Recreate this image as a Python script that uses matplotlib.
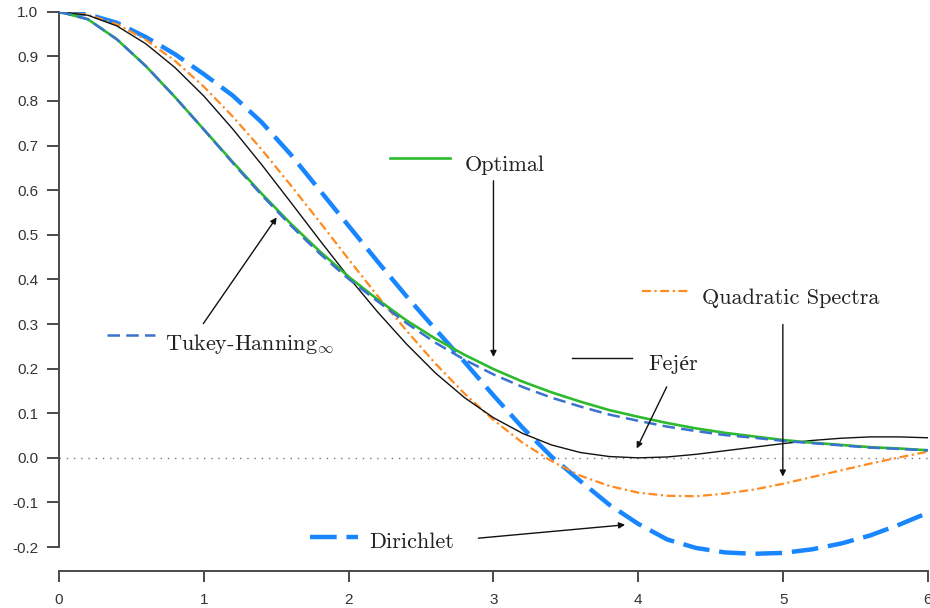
import matplotlib
matplotlib.use("Agg")
import matplotlib.pyplot as plt

# ---------------- data ----------------
x = [0.0, 0.2, 0.4, 0.6, 0.8, 1.0, 1.2, 1.4, 1.6, 1.8, 2.0, 2.2, 2.4, 2.6, 2.8, 3.0,
     3.2, 3.4, 3.6, 3.8, 4.0, 4.2, 4.4, 4.6, 4.8, 5.0, 5.2, 5.4, 5.6, 5.8, 6.0]

optimal = [1.000, 0.983, 0.938, 0.878, 0.809, 0.736, 0.663, 0.592, 0.525, 0.463, 0.406,
           0.355, 0.308, 0.267, 0.231, 0.199, 0.171, 0.147, 0.126, 0.107, 0.092, 0.078,
           0.066, 0.056, 0.048, 0.040, 0.034, 0.029, 0.024, 0.021, 0.017]

tukey_hanning = [1.000, 0.983, 0.938, 0.878, 0.809, 0.736, 0.661, 0.589, 0.521, 0.458, 0.401,
                 0.351, 0.302, 0.258, 0.220, 0.187, 0.159, 0.135, 0.115, 0.097, 0.083, 0.070,
                 0.060, 0.051, 0.045, 0.038, 0.033, 0.028, 0.023, 0.020, 0.017]

fejer = [1.000, 0.992, 0.968, 0.928, 0.875, 0.811, 0.737, 0.657, 0.573, 0.488, 0.405,
         0.327, 0.255, 0.190, 0.135, 0.090, 0.055, 0.029, 0.012, 0.003, 0.000, 0.002,
         0.008, 0.016, 0.024, 0.032, 0.039, 0.044, 0.047, 0.047, 0.045]

quadratic_spectral = [1.000, 0.993, 0.972, 0.937, 0.890, 0.832, 0.765, 0.691, 0.611, 0.529,
                      0.445, 0.363, 0.285, 0.211, 0.144, 0.085, 0.034, -0.007, -0.040,
                      -0.063, -0.078, -0.085, -0.086, -0.080, -0.071, -0.058, -0.043,
                      -0.028, -0.013, 0.001, 0.014]

dirichlet = [1.000, 0.994, 0.975, 0.943, 0.905, 0.860, 0.812, 0.752, 0.680, 0.600, 0.520,
             0.440, 0.362, 0.288, 0.215, 0.140, 0.068, 0.003, -0.052, -0.105, -0.148,
             -0.183, -0.202, -0.212, -0.215, -0.213, -0.205, -0.192, -0.174, -0.150, -0.123]

xticks = [0, 1, 2, 3, 4, 5, 6]
xtick_labels = ["0", "1", "2", "3", "4", "5", "6"]
yticks = [-0.2, -0.1, 0.0, 0.1, 0.2, 0.3, 0.4, 0.5, 0.6, 0.7, 0.8, 0.9, 1.0]
ytick_labels = ["-0.2", "-0.1", "0.0", "0.1", "0.2", "0.3", "0.4", "0.5", "0.6",
                "0.7", "0.8", "0.9", "1.0"]

# ---------------- styling ----------------
plt.rcParams["mathtext.fontset"] = "cm"
label_font = ["cmr10", "Liberation Serif"]
tick_font = ["Liberation Sans", "DejaVu Sans"]

C_OPT = "#2dbb2d"
C_TH = "#3a72cf"
C_FEJ = "#111111"
C_QS = "#ff8a1e"
C_DIR = "#1786ff"

fig = plt.figure(figsize=(9.3, 6.08), dpi=100)
ax = fig.add_axes([0.0634, 0.0609, 0.9344, 0.9199])

ax.axhline(0.0, color="#777777", lw=1.0, ls=(0, (1, 4.2)), zorder=1)

ax.plot(x, dirichlet, color=C_DIR, lw=3.2, dashes=(6, 2.2), zorder=2)
ax.plot(x, quadratic_spectral, color=C_QS, lw=1.6, dashes=(4, 1.6, 1, 1.6), zorder=3)
ax.plot(x, fejer, color=C_FEJ, lw=1.0, zorder=4)
ax.plot(x, optimal, color=C_OPT, lw=1.9, zorder=5)
ax.plot(x, tukey_hanning, color=C_TH, lw=1.8, dashes=(5, 2.5), zorder=6)

ax.set_xlim(0, 6)
ax.set_ylim(-0.2535, 1.0)

ax.set_xticks(xticks)
ax.set_xticklabels(xtick_labels)
ax.set_yticks(yticks)
ax.set_yticklabels(ytick_labels)

for s in ["top", "right"]:
    ax.spines[s].set_visible(False)
ax.spines["left"].set_bounds(-0.2, 1.0)
ax.spines["bottom"].set_bounds(0, 6)
for s in ["left", "bottom"]:
    ax.spines[s].set_color("#4a4a4a")
    ax.spines[s].set_linewidth(1.4)

ax.tick_params(axis="both", direction="out", width=1.4, color="#4a4a4a",
               labelcolor="#333333", labelsize=11)
ax.tick_params(axis="y", length=9, pad=6)
ax.tick_params(axis="x", length=8, pad=8)
for lab in ax.get_xticklabels() + ax.get_yticklabels():
    lab.set_fontfamily(tick_font)

# ---------------- in-plot labels (legend-like keys) ----------------
FS = 16

def key(x0, x1, y, text_x, text_y, label, **style):
    ax.plot([x0, x1], [y, y], **style, zorder=7)
    ax.text(text_x, text_y, label, fontsize=FS, family=label_font,
            va="baseline", ha="left", color="#222222")

key(2.286, 2.700, 0.673, 2.804, 0.644, "Optimal", color=C_OPT, lw=1.9)
key(4.024, 4.358, 0.375, 4.438, 0.345, "Quadratic Spectra",
    color=C_QS, lw=1.6, dashes=(4, 1.6, 1, 1.6))
key(3.541, 3.955, 0.224, 4.070, 0.196, "Fejér", color=C_FEJ, lw=1.0)
key(0.329, 0.663, 0.2745, 0.733, 0.2425, r"Tukey-Hanning$_{\infty}$",
    color=C_TH, lw=1.8, dashes=(5, 2.5))
key(1.733, 2.067, -0.1767, 2.143, -0.2027, "Dirichlet",
    color=C_DIR, lw=3.2, dashes=(6, 2.2))

# ---------------- arrows ----------------
arrows = [
    ((3.0, 0.621), (3.0, 0.226)),
    ((4.998, 0.299), (4.998, -0.042)),
    ((4.196, 0.159), (3.989, 0.021)),
    ((0.997, 0.301), (1.503, 0.539)),
    ((2.896, -0.180), (3.909, -0.150)),
]
for start, end in arrows:
    ax.annotate("", xy=end, xytext=start,
                arrowprops=dict(arrowstyle="-|>", color="#111111", lw=1.0,
                                mutation_scale=9, shrinkA=0, shrinkB=0),
                zorder=8)

fig.savefig("out.png", dpi=100)
